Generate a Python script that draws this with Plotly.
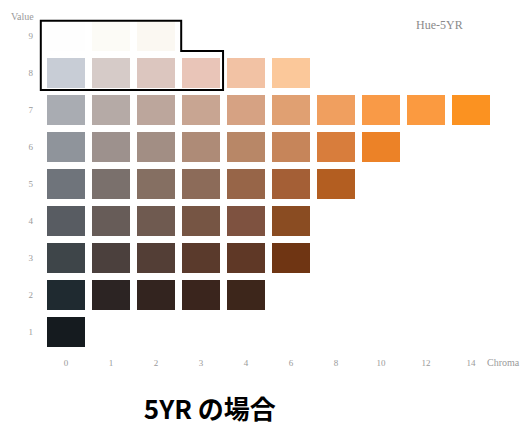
import plotly.graph_objects as go

# Munsell hue page 5YR: chroma columns and value rows
chroma_labels = ["0", "1", "2", "3", "4", "6", "8", "10", "12", "14"]
value_levels = [1, 2, 3, 4, 5, 6, 7, 8, 9]

# swatch colours for each value, from chroma 0 outward
value_9 = ["#fefefe", "#fcfbf6", "#fbf8f2"]
value_8 = ["#c8cdd6", "#d6cbc8", "#dcc6bf", "#e9c5b8", "#f2c2a4", "#fbc89a"]
value_7 = ["#a9acb2", "#b5aaa6", "#bca69c", "#c8a592", "#d6a283", "#e0a072",
           "#f09f5f", "#f99a47", "#fb9a40", "#fb9221"]
value_6 = ["#8f949b", "#9d918d", "#a28e84", "#ae8b77", "#b88767", "#c6855a",
           "#d87d3c", "#ec8227"]
value_5 = ["#6f747b", "#7a706c", "#856f62", "#8c6b59", "#976548", "#a45f36",
           "#b35e21"]
value_4 = ["#585c62", "#675c58", "#6f5a50", "#765544", "#7e5240", "#8a4c22"]
value_3 = ["#3e4549", "#4b403d", "#533e36", "#5a3a2c", "#5f3826", "#6f3513"]
value_2 = ["#1f2a30", "#2c2423", "#33241f", "#3a251d", "#3d261b"]
value_1 = ["#151b1f"]

rows = {1: value_1, 2: value_2, 3: value_3, 4: value_4, 5: value_5,
        6: value_6, 7: value_7, 8: value_8, 9: value_9}

SW_W = 0.84   # swatch width in chroma-column units
SW_H = 0.80   # swatch height in value units

fig = go.Figure()
for v, colours in rows.items():
    cols = list(range(len(colours)))
    fig.add_trace(go.Bar(
        x=cols,
        y=[SW_H] * len(cols),
        base=[v - SW_H / 2] * len(cols),
        width=SW_W,
        marker=dict(color=colours, line=dict(width=0)),
        showlegend=False,
        hoverinfo="skip",
    ))

# outline around the value 8/9 light-tone group
fig.add_shape(
    type="path",
    path="M -0.56 9.41 L 2.56 9.41 L 2.56 8.595 L 3.49 8.595 L 3.49 7.54 L -0.56 7.54 Z",
    xref="x", yref="y",
    line=dict(color="black", width=2),
    fillcolor="rgba(0,0,0,0)",
)

label_font = dict(family="Liberation Serif", size=9, color="#9a9a9a")

fig.add_annotation(x=9.72, y=0, xref="x", yref="paper",
                   text="Chroma", showarrow=False,
                   font=dict(family="Liberation Serif", size=10, color="#9a9a9a"),
                   yanchor="top", yshift=-3)
fig.add_annotation(x=0.0, y=1.0, xref="paper", yref="paper", xanchor="right",
                   text="Value", showarrow=False,
                   font=dict(family="Liberation Serif", size=10, color="#9a9a9a"),
                   yanchor="middle", xshift=2, yshift=-13)
fig.add_annotation(x=8.29, y=9.30, xref="x", yref="y",
                   text="Hue-5YR", showarrow=False,
                   font=dict(family="Liberation Serif", size=12, color="#8a8a8a"))

fig.update_layout(
    width=522, height=427,
    margin=dict(l=34, r=6, t=3, b=75),
    paper_bgcolor="white", plot_bgcolor="white",
    barmode="overlay",
    bargap=0,
    title=dict(text="5YR の場合", x=0.402, xanchor="center",
               y=0.04, yanchor="middle", yref="container",
               font=dict(family="Noto Sans CJK JP", size=26, color="black", weight="bold")),
    xaxis=dict(range=[-0.711, 10], tickvals=list(range(len(chroma_labels))),
               ticktext=chroma_labels, showgrid=False, zeroline=False,
               showline=False, ticks="", tickfont=label_font, ticklabelstandoff=4),
    yaxis=dict(range=[0.459, 9.892], tickvals=value_levels,
               ticktext=[str(v) for v in value_levels], showgrid=False,
               zeroline=False, showline=False, ticks="", tickfont=label_font),
)

fig.write_html("out.html")
